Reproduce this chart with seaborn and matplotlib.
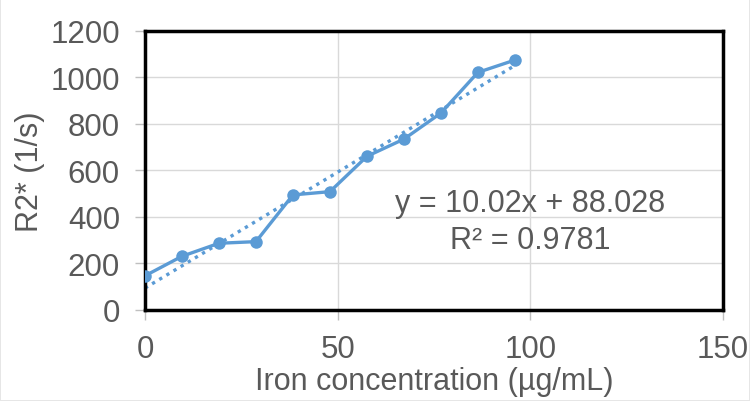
"""R2* relaxation vs iron concentration, Excel-style scatter with linear trendline."""

import matplotlib
matplotlib.use("Agg")
import matplotlib.pyplot as plt
import numpy as np
import pandas as pd
import seaborn as sns

# data
iron_conc = [0, 9.6, 19.2, 28.8, 38.4, 48, 57.6, 67.2, 76.8, 86.4, 96]
r2_star = [147, 231, 287, 294, 495, 509, 661, 735, 847, 1022, 1075]
fit_text = "y = 10.02x + 88.028\nR² = 0.9781"
x_ticks = [0, 50, 100, 150]
y_ticks = [0, 200, 400, 600, 800, 1000, 1200]

df = pd.DataFrame({"conc": iron_conc, "r2": r2_star})

sns.set_theme(style="whitegrid")
plt.rcParams["font.family"] = ["Liberation Sans", "DejaVu Sans"]

blue = "#5B9BD5"
grey = "#595959"

fig = plt.figure(figsize=(7.5, 4.02), dpi=100)
fig.patch.set_edgecolor("#e6e6e6")
fig.patch.set_linewidth(1.2)
ax = fig.add_axes([0.1933, 0.2264, 0.7707, 0.694])

sns.lineplot(data=df, x="conc", y="r2", ax=ax, color=blue, lw=2.4,
             marker="o", markersize=9, markeredgewidth=0, zorder=3)
sns.regplot(data=df, x="conc", y="r2", ax=ax, scatter=False, ci=None,
            truncate=True, color=blue,
            line_kws={"ls": (0, (1, 1.5)), "lw": 2.4, "zorder": 2})

ax.text(100, 382, fit_text, ha="center", va="center", fontsize=22,
        color=grey, linespacing=1.3)

ax.set_xlim(0, 150)
ax.set_ylim(0, 1200)
ax.set_xticks(x_ticks)
ax.set_yticks(y_ticks)
ax.set_xlabel("Iron concentration (µg/mL)", fontsize=22, color=grey, labelpad=2)
ax.set_ylabel("R2* (1/s)", fontsize=22, color=grey, labelpad=4)
ax.tick_params(axis="both", labelsize=22.5, labelcolor=grey, color="#bfbfbf",
               length=7, width=1, direction="out")
ax.tick_params(axis="x", pad=10)
ax.tick_params(axis="y", pad=11)
ax.xaxis.set_ticks_position("bottom")
ax.yaxis.set_ticks_position("left")
ax.grid(True, color="#d9d9d9", lw=1)
for s in ax.spines.values():
    s.set_color("black")
    s.set_linewidth(2.5)
    s.set_visible(True)

fig.savefig("out.png", dpi=100)
